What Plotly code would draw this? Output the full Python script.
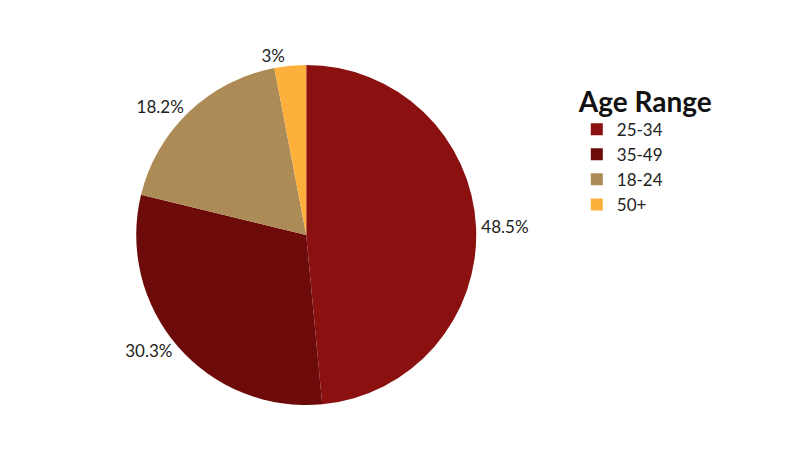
import plotly.graph_objects as go

labels = ["25-34", "35-49", "18-24", "50+"]
values = [48.5, 30.3, 18.2, 3]
colors = ["#8B1111", "#6D0A0A", "#AD8B56", "#FDB03B"]

fig = go.Figure(go.Pie(
    labels=labels, values=values,
    marker=dict(colors=colors),
    sort=False, direction="clockwise", rotation=0,
    textinfo="percent", textposition="outside",
    texttemplate="%{value}%",
    textfont=dict(size=17, color="#222"),
    domain=dict(x=[0.162, 0.593], y=[0, 1]),
    showlegend=True,
))

fig.update_layout(
    width=790, height=460,
    margin=dict(l=0, r=0, t=57, b=63),
    paper_bgcolor="white",
    font=dict(family="Lato, sans-serif", color="#222"),
    legend=dict(
        x=0.72, y=0.97, xanchor="left", yanchor="top",
        title=dict(text="<b>Age Range</b>", font=dict(size=28, color="#111")),
        font=dict(size=17),
        tracegroupgap=8,
    ),
)

fig.write_html("out.html")
